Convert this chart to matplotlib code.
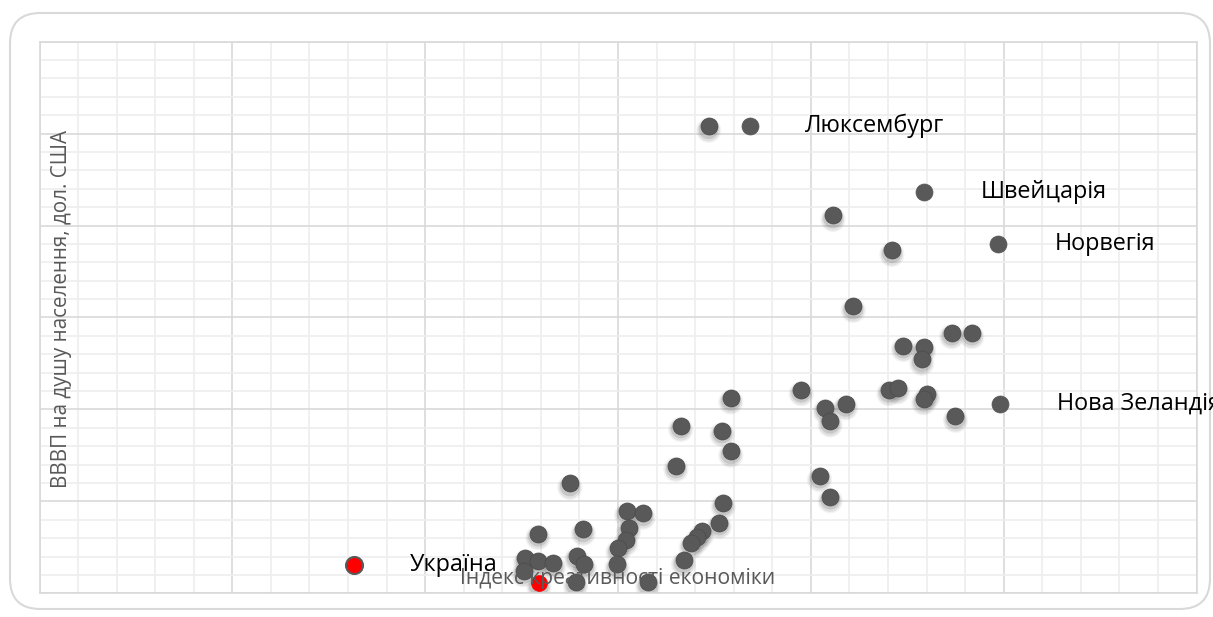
import matplotlib
matplotlib.use("Agg")
import matplotlib.pyplot as plt
import matplotlib.transforms as mtransforms
from matplotlib.patches import FancyBboxPatch
from matplotlib.ticker import MultipleLocator

# Creativity index (x) and GDP per capita (y) for unlabeled countries
x_other = [0.694, 0.823, 0.884, 0.844, 0.946, 0.967, 0.896, 0.917, 0.915,
           0.790, 0.881, 0.890, 0.921, 0.917, 0.815, 0.836, 0.820, 0.950,
           0.717, 0.665, 0.708, 0.717, 0.660, 0.809, 0.820, 0.550, 0.709,
           0.609, 0.626, 0.705, 0.687, 0.682, 0.676, 0.668, 0.611, 0.608,
           0.564, 0.517, 0.600, 0.557, 0.565, 0.599, 0.504, 0.517, 0.533,
           0.502, 0.556, 0.631]
y_other = [101600, 82200, 74600, 62400, 56700, 56700, 53900, 53500, 50900,
           44300, 44300, 44700, 43400, 42300, 40400, 41200, 37500, 38500,
           42500, 36500, 35400, 30900, 27800, 25600, 21000, 23900, 19700,
           17900, 17400, 15400, 13500, 12200, 10900, 7200, 14300, 11700,
           13900, 13000, 9800, 8200, 6300, 6300, 7600, 7000, 6500,
           4900, 2400, 2400]

# Labeled countries
lab_names = ["Люксембург", "Швейцарія", "Норвегія", "Нова Зеландія"]
lab_x = [0.737, 0.917, 0.994, 0.996]
lab_y = [101600, 87400, 76000, 41200]

ukr_name = "Україна"
ukr_x = [0.326]
ukr_y = [6100]
red_x = [0.518]
red_y = [2200]

W, H = 1213, 617
fig = plt.figure(figsize=(W / 100, H / 100), dpi=100)

# Outer rounded frame
frame = FancyBboxPatch((10 / W, 8 / H), 1200 / W, 596 / H,
                       boxstyle="round,pad=0,rounding_size=0.025",
                       transform=fig.transFigure, facecolor="none",
                       edgecolor="#d9d9d9", linewidth=1.5, zorder=-1,
                       mutation_aspect=W / H)
fig.patches.append(frame)

ax = fig.add_axes([39.5 / W, 23.7 / H, 1157 / W, 551.6 / H])
ax.set_xlim(0, 1.2)
ax.set_ylim(0, 120000)
ax.xaxis.set_major_locator(MultipleLocator(0.2))
ax.xaxis.set_minor_locator(MultipleLocator(0.04))
ax.yaxis.set_major_locator(MultipleLocator(20000))
ax.yaxis.set_minor_locator(MultipleLocator(4000))
ax.grid(which="major", color="#d9d9d9", linewidth=1.2)
ax.grid(which="minor", color="#eeeeee", linewidth=1.2)
ax.set_axisbelow(True)
ax.tick_params(which="both", length=0, labelbottom=False, labelleft=False)
for s in ax.spines.values():
    s.set_color("#d9d9d9")
    s.set_linewidth(1.2)
ax.patch.set_alpha(0)

# soft shadows
for dy, sz, a in [(-4, 330, 0.07), (-4, 260, 0.12), (-3, 200, 0.2)]:
    tr = mtransforms.offset_copy(ax.transData, fig=fig, x=0, y=dy, units="dots")
    ax.scatter(x_other + red_x, y_other + red_y, s=sz, color="#606060",
               alpha=a, edgecolors="none", transform=tr, zorder=2)

ax.scatter(x_other, y_other, s=150, color="#595959", edgecolors="#4a4a4a",
           linewidths=0.5, zorder=3)
ax.scatter(lab_x, lab_y, s=150, color="#595959", edgecolors="#595959",
           linewidths=0.5, zorder=3)
ax.scatter(ukr_x, ukr_y, s=150, color="#ff0000", edgecolors="#595959",
           linewidths=1.5, zorder=3)
ax.scatter(red_x, red_y, s=130, color="#ff0000", edgecolors="#ff0000",
           linewidths=0.5, zorder=3)

fs = 16.8
for n, xx, yy, dx in zip(lab_names, lab_x, lab_y, [55, 57, 57, 57]):
    ax.annotate(n, (xx, yy), xytext=(dx * 0.72, 0), textcoords="offset points",
                fontsize=fs, family="Open Sans", va="center", ha="left",
                color="black", zorder=5, annotation_clip=False)
ax.annotate(ukr_name, (ukr_x[0], ukr_y[0]), xytext=(56 * 0.72, 0),
            textcoords="offset points", fontsize=fs, family="Open Sans",
            va="center", ha="left", color="black", zorder=5)

ax.text(0.5, 0.027, "Індекс креативності економіки", transform=ax.transAxes,
        ha="center", va="center", fontsize=15.2, family="Open Sans",
        color="#595959", zorder=4)
ax.text(0.019, 0.515, "ВВВП на душу населення, дол. США", transform=ax.transAxes,
        ha="center", va="center", rotation=90, fontsize=14.9, family="Open Sans",
        color="#595959", zorder=4)

fig.savefig("out.png", dpi=100)
